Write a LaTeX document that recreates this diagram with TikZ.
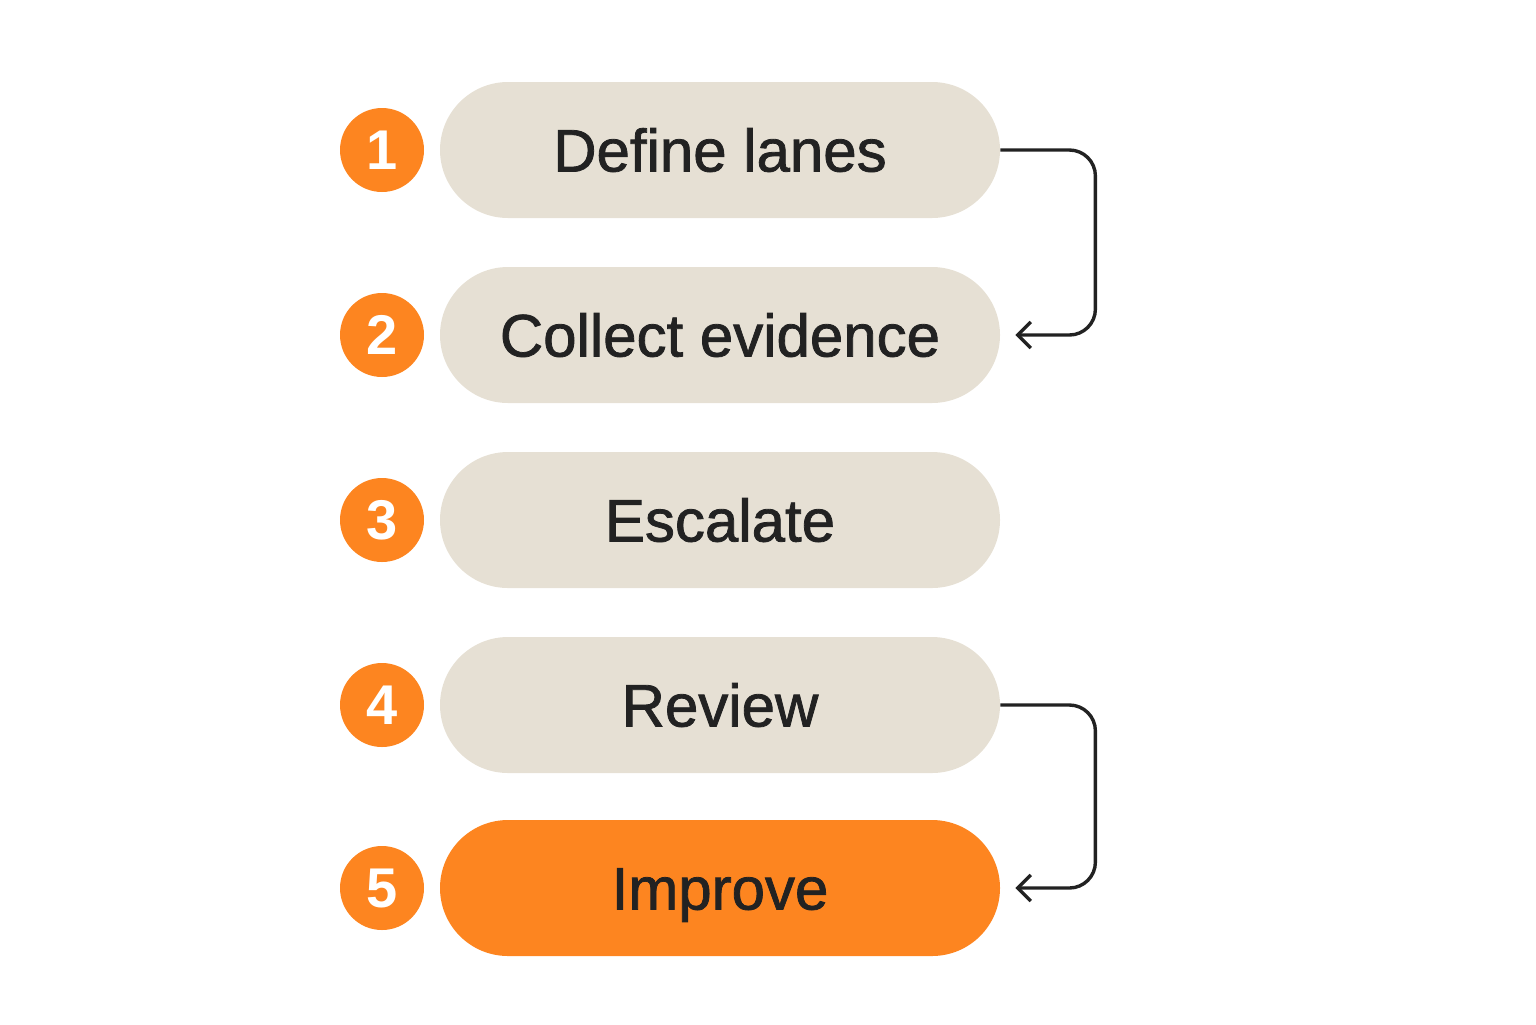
\documentclass[tikz,border=0pt]{standalone}
\usepackage{fontspec}
\setmainfont{Liberation Sans}
\newfontfamily\pillfont[FakeBold=1.3]{Liberation Sans}
\usetikzlibrary{arrows.meta}
\definecolor{pillbg}{HTML}{E6E0D4}
\definecolor{accent}{HTML}{FD8520}
\definecolor{ink}{HTML}{222222}
\begin{document}
\begin{tikzpicture}[x=0.5pt,y=-0.5pt,
  pill/.style={rectangle, rounded corners=34pt, minimum width=280pt, minimum height=68pt,
    fill=pillbg, text=ink, font=\pillfont\fontsize{30}{30}\selectfont, text height=21.5pt, text depth=0pt, inner sep=0pt},
  hot/.style={fill=accent},
  badge/.style={circle, fill=accent, minimum size=42pt, inner sep=0pt, text=white,
    font=\fontsize{28}{28}\selectfont\bfseries},
  link/.style={draw=ink, line width=1.7pt, rounded corners=13pt,
    -{Straight Barb[length=6.5pt,width=13pt,line width=1.7pt]}}
]
\useasboundingbox (0,0) rectangle (1536,1024);
\node[pill] (p1) at (720,150) {Define lanes};
\node[pill] (p2) at (720,335) {Collect evidence};
\node[pill] (p3) at (720,520) {Escalate};
\node[pill] (p4) at (720,705) {Review};
\node[pill,hot] (p5) at (720,888) {Improve};
\node[badge] (b1) at (382,150) {1};
\node[badge] (b2) at (382,335) {2};
\node[badge] (b3) at (382,520) {3};
\node[badge] (b4) at (382,705) {4};
\node[badge] (b5) at (382,888) {5};
\draw[link] (p1.east) -- ([xshift=47.5pt]p1.east) |- ([xshift=7.5pt]p2.east);
\draw[link] (p4.east) -- ([xshift=47.5pt]p4.east) |- ([xshift=7.5pt]p5.east);
\end{tikzpicture}
\end{document}
